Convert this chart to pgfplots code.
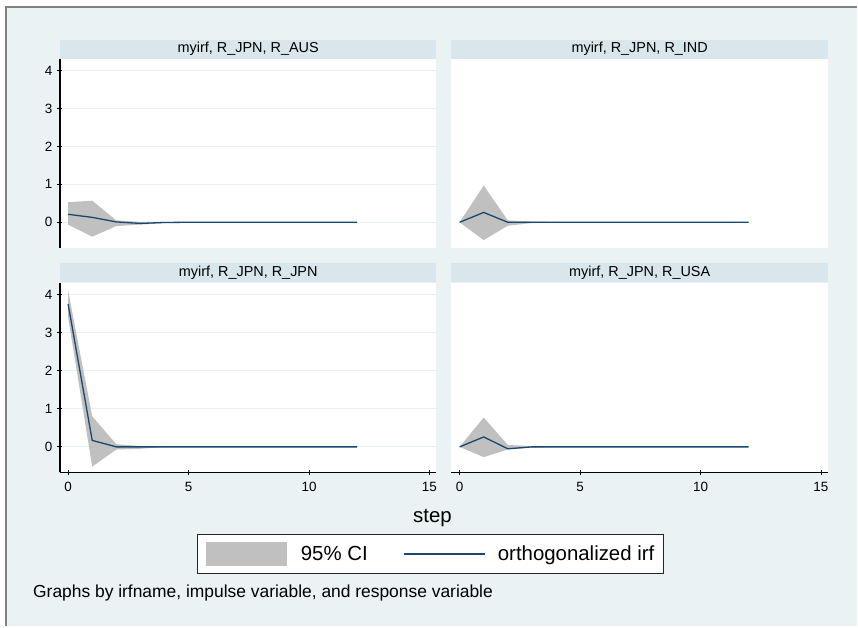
\documentclass[border=0pt]{standalone}
\usepackage{pgfplots}
\pgfplotsset{compat=1.18}
\usepackage{fontspec}
\setmainfont{Liberation Sans}
\definecolor{bgc}{RGB}{234,242,243}
\definecolor{hdc}{RGB}{217,230,235}
\definecolor{gridc}{RGB}{232,240,242}
\definecolor{cigray}{RGB}{192,192,192}
\definecolor{irfc}{RGB}{26,71,111}
\definecolor{frc}{RGB}{128,128,128}

% irf series (step, orthogonalized irf)
\pgfplotstableread{
step irf
0 0.21
1 0.13
2 0.01
3 -0.03
4 -0.005
5 0
6 0
7 0
8 0
9 0
10 0
11 0
12 0
}\AUS
\pgfplotstableread{
step irf
0 0
1 0.26
2 0.0
3 0.0
4 0
5 0
6 0
7 0
8 0
9 0
10 0
11 0
12 0
}\IND
\pgfplotstableread{
step irf
0 3.75
1 0.17
2 0.0
3 0.0
4 0
5 0
6 0
7 0
8 0
9 0
10 0
11 0
12 0
}\JPN
\pgfplotstableread{
step irf
0 0
1 0.26
2 -0.05
3 0.0
4 0
5 0
6 0
7 0
8 0
9 0
10 0
11 0
12 0
}\USA

\pgfplotsset{
  panel/.style={
    scale only axis, width=377bp,
    xmin=-0.34, xmax=15.29, ymin=-0.67, ymax=4.31,
    ytick={0,1,2,3,4}, xtick={0,5,10,15},
    ymajorgrids, major grid style={gridc, line width=1.2bp},
    axis background/.style={fill=white},
    tick style={black, line width=0.8bp}, major tick length=5bp, tick align=outside,
    /pgf/number format/assume math mode=true,
    ticklabel style={font=\fontsize{13.5}{15}\selectfont},
    xticklabel style={yshift=-4bp},
    yticklabel style={xshift=-1.5bp},
    every axis title shift=0pt,
    title style={at={(0.5,1)}, anchor=south, fill=hdc, minimum width=377bp,
      minimum height=19bp, inner sep=0pt, font=\fontsize{14.5}{16}\selectfont},
  },
  lines/.style={axis line style={-, black, line width=1.2bp}},
  ci/.style={fill=cigray, draw=none, forget plot},
  irfline/.style={irfc, line width=1.3bp, forget plot},
}

\begin{document}
\begin{tikzpicture}
\fill[white] (0bp,0bp) rectangle (858bp,627bp);
\fill[bgc] (7bp,0bp) rectangle (858bp,619bp);
\draw[frc, line width=2.2bp] (5bp,620bp) -- (858bp,620bp);
\draw[frc, line width=2.2bp] (6bp,621bp) -- (6bp,0bp);

% panel 1: R_AUS
\begin{axis}[panel, at={(60bp,379bp)}, anchor=south west, height=189bp,
  axis x line=none, axis y line=left, lines, xtick=\empty,
  title={myirf, R\_JPN, R\_AUS}]
\addplot[ci] coordinates {(0,0.53) (1,0.57) (2,0.05) (3,0.01) (4,0.01) (5,0)
  (4,-0.02) (3,-0.06) (2,-0.10) (1,-0.38) (0,-0.06)} -- cycle;
\addplot[irfline] table[x=step,y=irf] {\AUS};
\end{axis}

% panel 2: R_IND
\begin{axis}[panel, at={(452bp,379bp)}, anchor=south west, height=189bp,
  axis x line=none, axis y line=none, lines, xtick=\empty, yticklabels={},
  major tick length=0pt,
  title={myirf, R\_JPN, R\_IND}]
\addplot[ci] coordinates {(0,0) (1,0.97) (2,0.05) (3,0.02) (4,0.01) (5,0)
  (4,-0.01) (3,-0.02) (2,-0.09) (1,-0.47) (0,0)} -- cycle;
\addplot[irfline] table[x=step,y=irf] {\IND};
\end{axis}

% panel 3: R_JPN
\begin{axis}[panel, at={(60bp,154bp)}, anchor=south west, height=190bp,
  axis x line=bottom, axis y line=left, lines,
  title={myirf, R\_JPN, R\_JPN},
  legend style={at={(0.984,-0.43)}, anchor=center, draw=black!85, line width=1.5bp,
    fill=white, legend columns=2, font=\fontsize{20.5}{24}\selectfont,
    inner xsep=9bp, inner ysep=8bp, nodes={inner sep=0pt},
    /tikz/column 1/.style={column sep=14bp},
    /tikz/column 2/.style={column sep=36bp},
    /tikz/column 3/.style={column sep=12bp}},
  legend cell align=left]
\addlegendimage{legend image code/.code={\fill[cigray] (0bp,-11bp) rectangle (79bp,11bp);}}
\addlegendentry{95\% CI}
\addlegendimage{legend image code/.code={\draw[irfc, line width=1.3bp] (0bp,0bp) -- (81bp,0bp);}}
\addlegendentry{orthogonalized irf\hspace{12bp}}
\addplot[ci] coordinates {(0,4.10) (1,0.80) (2,0.07) (3,0.02) (4,0.0)
  (3,-0.05) (2,-0.07) (1,-0.52) (0,3.40)} -- cycle;
\addplot[irfline] table[x=step,y=irf] {\JPN};
\end{axis}

% panel 4: R_USA
\begin{axis}[panel, at={(452bp,154bp)}, anchor=south west, height=190bp,
  axis x line=bottom, axis y line=none, lines, yticklabels={},
  ytick style={draw=none},
  title={myirf, R\_JPN, R\_USA}]
\addplot[ci] coordinates {(0,0) (1,0.77) (2,0.05) (3,0.02) (4,0)
  (3,-0.02) (2,-0.07) (1,-0.27) (0,0)} -- cycle;
\addplot[irfline] table[x=step,y=irf] {\USA};
\end{axis}

\node[font=\fontsize{20.5}{24}\selectfont] at (433bp,108bp) {step};
\node[anchor=base west, font=\fontsize{17.5}{20}\selectfont, inner sep=0pt] at (33bp,29bp)
  {Graphs by irfname, impulse variable, and response variable};
\end{tikzpicture}
\end{document}
